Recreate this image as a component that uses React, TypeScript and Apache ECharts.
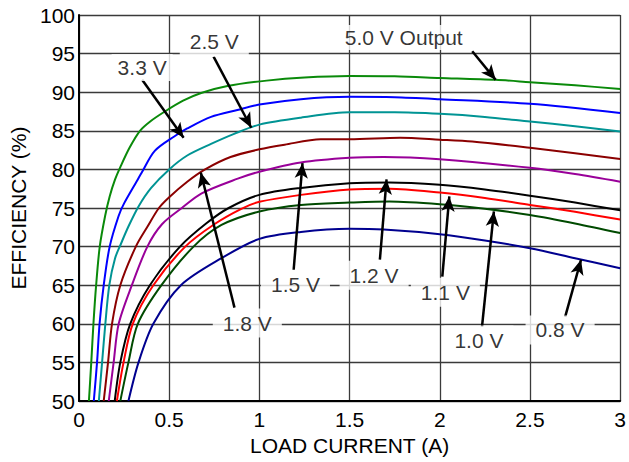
import React, { useEffect, useRef } from "react";
import * as echarts from "echarts";

// Load current (A) vs efficiency (%) for each output voltage
const out50 = [[0.055,50],[0.068,55],[0.08,60],[0.095,65],[0.115,70],[0.145,74],[0.17,76.5],[0.2,78.7],[0.229,80.3],[0.28,82.8],[0.338,85.0],[0.40,86.3],[0.476,87.5],[0.577,88.9],[0.677,89.9],[0.823,90.8],[1.04,91.5],[1.25,91.9],[1.5,92.1],[1.75,92.05],[2.0,91.85],[2.31,91.6],[2.5,91.3],[2.75,90.9],[3.0,90.4]];
const out33 = [[0.082,50],[0.1,55],[0.114,60],[0.137,65],[0.17,70],[0.22,74],[0.25,75.6],[0.326,78.7],[0.348,79.6],[0.42,82.4],[0.53,84.3],[0.6,85.3],[0.732,86.8],[0.878,87.7],[1.0,88.4],[1.23,89.1],[1.5,89.4],[1.75,89.35],[2.0,89.1],[2.5,88.5],[3.0,87.3]];
const out25 = [[0.11,50],[0.128,55],[0.146,60],[0.168,65],[0.20,68.5],[0.235,70.5],[0.274,72.6],[0.33,75.2],[0.40,77.6],[0.5,80],[0.6,81.8],[0.732,83.3],[0.86,84.6],[1.0,85.8],[1.23,86.7],[1.5,87.4],[1.75,87.4],[2.0,87.2],[2.25,86.8],[2.5,86.2],[2.75,85.6],[3.0,84.9]];
const out18 = [[0.137,50],[0.161,55],[0.183,60],[0.229,65],[0.315,70],[0.38,72.6],[0.443,75],[0.5,76.4],[0.6,78.4],[0.699,80],[0.84,81.6],[1.0,82.6],[1.14,83.2],[1.34,83.9],[1.5,83.9],[1.78,84.1],[2.0,83.85],[2.18,83.6],[2.5,82.8],[2.75,82.1],[3.0,81.35]];
const out15 = [[0.165,50],[0.192,55],[0.22,60],[0.293,65],[0.379,70],[0.46,72.9],[0.57,75],[0.68,76.9],[0.88,78.8],[1.0,79.7],[1.23,80.9],[1.5,81.5],[1.69,81.6],[2.0,81.3],[2.5,80.2],[2.75,79.4],[3.0,78.4]];
const out12 = [[0.198,50],[0.229,55],[0.284,60],[0.393,65],[0.56,70],[0.708,73.05],[0.83,75.0],[1.0,76.7],[1.23,77.6],[1.5,78.2],[1.72,78.3],[2.0,78.0],[2.25,77.4],[2.5,76.6],[2.75,75.7],[3.0,74.7]];
const out11 = [[0.21,50],[0.247,55],[0.298,60],[0.412,65],[0.589,70],[0.75,72.9],[0.9,74.9],[1.0,75.8],[1.23,76.7],[1.5,77.4],[1.72,77.5],[2.0,77.0],[2.25,76.3],[2.5,75.4],[2.75,74.5],[3.0,73.5]];
const out10 = [[0.229,50],[0.274,55],[0.326,60],[0.457,65],[0.635,70],[0.79,72.8],[1.0,74.55],[1.23,75.4],[1.5,75.7],[1.72,75.85],[2.0,75.5],[2.25,74.9],[2.5,74.1],[2.75,73.0],[3.0,71.75]];
const out08 = [[0.274,50],[0.33,55],[0.412,60],[0.565,65],[0.79,68.5],[1.0,71.0],[1.23,71.9],[1.5,72.3],[1.69,72.2],[2.0,71.6],[2.25,70.8],[2.5,69.8],[2.75,68.5],[3.0,67.2]];

const seriesNames = ["5.0 V", "3.3 V", "2.5 V", "1.8 V", "1.5 V", "1.2 V", "1.1 V", "1.0 V", "0.8 V"];
const seriesData = [out50, out33, out25, out18, out15, out12, out11, out10, out08];
const seriesColors = ["#0a8a0a", "#0000ff", "#009494", "#8b0000", "#990099", "#000000", "#ff0000", "#004a00", "#00008f"];

// Annotations (data coordinates)
const labelTexts = ["5.0 V Output", "3.3 V", "2.5 V", "1.8 V", "1.5 V", "1.2 V", "1.1 V", "1.0 V", "0.8 V"];
const labelPos = [[1.80,97.1],[0.35,93.2],[0.75,96.6],[0.933,60.1],[1.20,65.05],[1.636,66.3],[2.031,64.1],[2.217,57.9],[2.667,59.2]];
const labelPads = [[2, 3], [3, 6], [3, 10, 7, 10], [4, 10], [4, 10], [4, 10], [4, 10], [4, 10], [4, 10]];
const arrowStart = [[2.18,95.3],[0.35,91.6],[0.746,94.6],[0.862,62.1],[1.19,67.0],[1.668,68.3],[2.014,66.1],[2.234,59.6],[2.695,60.9]];
const arrowEnd = [[2.31,91.6],[0.58,84.1],[0.955,85.4],[0.675,79.6],[1.239,80.8],[1.705,78.7],[2.053,76.5],[2.30,74.55],[2.783,68.3]];

const xTicks = { min: 0, max: 3, interval: 0.5 };
const yTicks = { min: 50, max: 100, interval: 5 };

const FONT = "'Liberation Sans', Arial, Helvetica, sans-serif";

export default function App() {
  const ref = useRef<HTMLDivElement>(null);
  useEffect(() => {
    if (!ref.current) return;
    const chart = echarts.init(ref.current, undefined, { renderer: "svg" });
    const lines = seriesData.map((d, i) => ({
      name: seriesNames[i],
      type: "line",
      data: d,
      showSymbol: false,
      symbol: "none",
      smooth: 0.3,
      lineStyle: { color: seriesColors[i], width: 2 },
      z: 3,
    }));
    const option: any = {
      animation: false,
      backgroundColor: "#ffffff",
      textStyle: { fontFamily: FONT },
      grid: { left: 76, right: 7, top: 15, bottom: 61, containLabel: false },
      xAxis: {
        type: "value",
        ...xTicks,
        name: "LOAD CURRENT (A)",
        nameLocation: "middle",
        nameGap: 34,
        nameTextStyle: { fontSize: 21, color: "#000", fontFamily: FONT },
        axisLine: { show: true, lineStyle: { color: "#000", width: 2 } },
        axisTick: { show: false },
        axisLabel: { fontSize: 21, color: "#000", margin: 8, fontFamily: FONT },
        splitLine: { show: true, lineStyle: { color: "#3a3a3a", width: 1.3 } },
      },
      yAxis: {
        type: "value",
        ...yTicks,
        name: "EFFICIENCY (%)",
        nameLocation: "middle",
        nameGap: 50,
        nameTextStyle: { fontSize: 21, color: "#000", fontFamily: FONT },
        axisLine: { show: true, lineStyle: { color: "#000", width: 2 } },
        axisTick: { show: false },
        axisLabel: { fontSize: 21, color: "#000", margin: 4, fontFamily: FONT },
        splitLine: { show: true, lineStyle: { color: "#3a3a3a", width: 1.3 } },
      },
      series: [
        ...lines,
        {
          name: "labels",
          type: "scatter",
          symbolSize: 0,
          z: 5,
          silent: true,
          data: labelPos.map((p, i) => ({
            value: p,
            name: labelTexts[i],
            label: { padding: labelPads[i] },
          })),
          label: {
            show: true,
            position: "inside",
            formatter: "{b}",
            fontSize: 21,
            color: "#000",
            fontFamily: FONT,
            backgroundColor: "#ffffff",
          },
        },
        {
          name: "arrows",
          type: "line",
          data: [],
          z: 6,
          markLine: {
            silent: true,
            animation: false,
            symbol: ["none", "arrow"],
            symbolSize: [10, 15],
            label: { show: false },
            lineStyle: { color: "#000", width: 2.5, type: "solid" },
            data: arrowStart.map((s, i) => [{ coord: s }, { coord: arrowEnd[i] }]),
          },
        },
      ],
    };
    chart.setOption(option);
    return () => chart.dispose();
  }, []);
  return (
    <div
      ref={ref}
      style={{ position: "fixed", left: 0, top: 0, width: 629, height: 462, background: "#fff" }}
    />
  );
}
